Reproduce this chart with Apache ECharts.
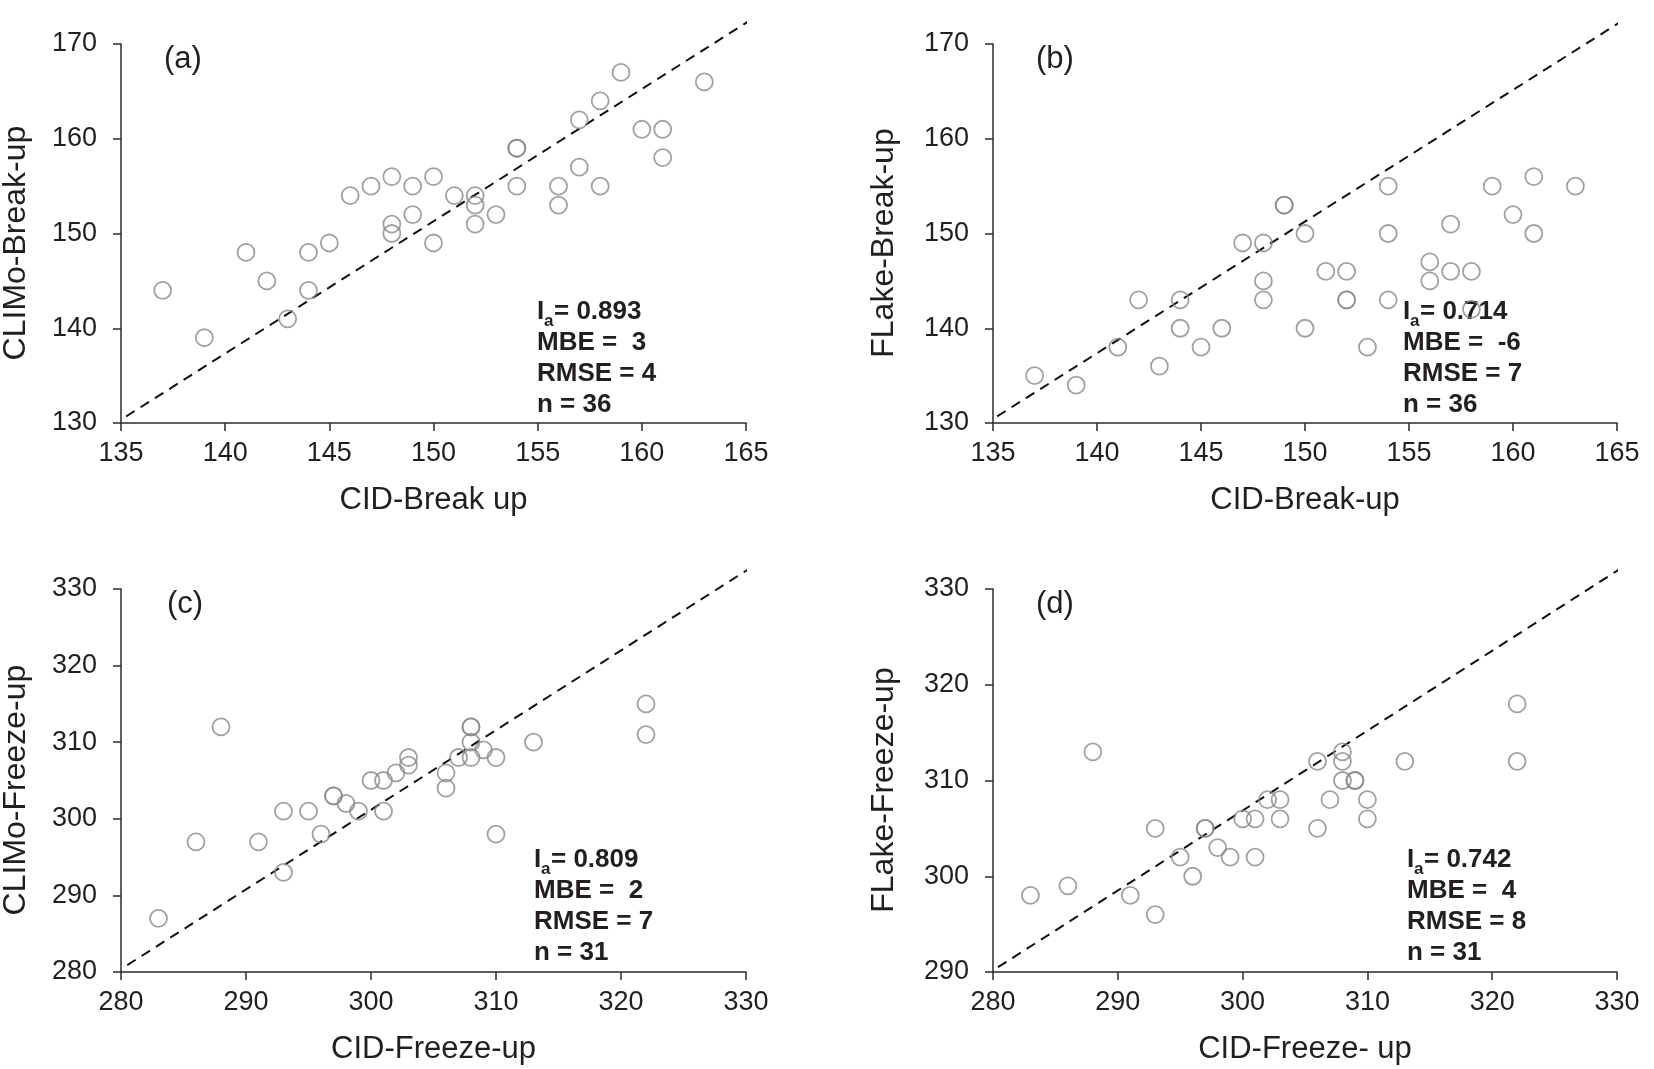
<!DOCTYPE html>
<html>
<head>
<meta charset="utf-8">
<script src="https://cdn.jsdelivr.net/npm/echarts@6/dist/echarts.min.js"></script>
<style>
html,body{margin:0;padding:0;background:#fff;}
#main{width:1654px;height:1069px;}
</style>
</head>
<body>
<div id="main"></div>
<script>
// (a) CID vs CLIMo break-up
var breakA = [[137,144],[139,139],[141,148],[142,145],[143,141],[144,148],[144,144],[145,149],[146,154],[147,155],
  [148,156],[148,151],[148,150],[149,155],[149,152],[150,156],[150,149],[151,154],[152,154],[152,153],
  [152,151],[153,152],[154,159],[154,159],[154,155],[156,155],[156,153],[157,162],[157,157],[158,164],
  [158,155],[159,167],[160,161],[161,161],[161,158],[163,166]];
// (b) CID vs FLake break-up
var breakB = [[137,135],[139,134],[141,138],[142,143],[143,136],[144,143],[144,140],[145,138],[146,140],[147,149],
  [148,149],[148,145],[148,143],[149,153],[149,153],[150,150],[150,140],[151,146],[152,146],[152,143],
  [152,143],[153,138],[154,155],[154,150],[154,143],[156,147],[156,145],[157,151],[157,146],[158,146],
  [158,142],[159,155],[160,152],[161,156],[161,150],[163,155]];
// (c) CID vs CLIMo freeze-up
var freezeC = [[283,287],[286,297],[288,312],[291,297],[293,301],[293,293],[295,301],[296,298],[297,303],[297,303],
  [298,302],[299,301],[300,305],[301,305],[301,301],[302,306],[303,308],[303,307],[306,306],[306,304],
  [307,308],[308,312],[308,312],[308,310],[308,308],[309,309],[310,308],[310,298],[313,310],[322,315],[322,311]];
// (d) CID vs FLake freeze-up
var freezeD = [[283,298],[286,299],[288,313],[291,298],[293,305],[293,296],[295,302],[296,300],[297,305],[297,305],
  [298,303],[299,302],[300,306],[301,306],[301,302],[302,308],[303,308],[303,306],[306,312],[306,305],
  [307,308],[308,313],[308,312],[308,310],[309,310],[309,310],[310,308],[310,306],[313,312],[322,318],[322,312]];

// dashed reference lines (end points)
var refA = [[135.25,130.7],[166.7,174.6]];
var refB = [[135.2,130.7],[166.8,174.6]];
var refC = [[280.5,280.9],[333,335.5]];
var refD = [[280.4,290.5],[333,334.4]];

var xTitles = ['CID-Break up','CID-Break-up','CID-Freeze-up','CID-Freeze- up'];
var yTitles = ['CLIMo-Break-up','FLake-Break-up','CLIMo-Freeze-up','FLake-Freeze-up'];
var panelTags = ['(a)','(b)','(c)','(d)'];
var xRanges = [[135,165,5],[135,165,5],[280,330,10],[280,330,10]];
var yRanges = [[130,170,10],[130,170,10],[280,330,10],[290,330,10]];
var statIa = ['0.893','0.714','0.809','0.742'];
var statMBE = ['3','-6','2','4'];
var statRMSE = ['4','7','7','8'];
var statN = ['36','36','31','31'];

var FONT = '"Liberation Sans", Arial, Helvetica, sans-serif';
var INK = '#231f20';
var AXIS = '#2b2b2b';

var grids = [
  {left:121, top:44, width:625, height:379},
  {left:993, top:44, width:624, height:379},
  {left:121, top:589, width:625, height:383},
  {left:993, top:589, width:624, height:383}
];
var yTitlePos = [[16,243],[884,243],[16,790],[884,790]];
var statPos = [[537,312],[1403,312],[534,860],[1407,860]];
var tagPos = [[164,59],[1036,59],[167,604],[1036,604]];

var chart = echarts.init(document.getElementById('main'));

var xAxes=[], yAxes=[], series=[], graphics=[];
var pts = [breakA, breakB, freezeC, freezeD];
var refs = [refA, refB, refC, refD];

for (var i=0;i<4;i++){
  xAxes.push({
    type:'value', gridIndex:i, min:xRanges[i][0], max:xRanges[i][1], interval:xRanges[i][2],
    axisLine:{onZero:false, lineStyle:{color:AXIS, width:1.5}},
    axisTick:{show:true, length:8, lineStyle:{color:AXIS, width:1.5}},
    splitLine:{show:false},
    axisLabel:{fontSize:27, color:INK, fontFamily:FONT, margin:17},
    name:xTitles[i], nameLocation:'middle', nameGap:62,
    nameTextStyle:{fontSize:31, color:INK, fontFamily:FONT}
  });
  yAxes.push({
    type:'value', gridIndex:i, min:yRanges[i][0], max:yRanges[i][1], interval:yRanges[i][2],
    axisLine:{onZero:false, lineStyle:{color:AXIS, width:1.5}},
    axisTick:{show:true, length:8, lineStyle:{color:AXIS, width:1.5}},
    splitLine:{show:false},
    axisLabel:{fontSize:27, color:INK, fontFamily:FONT, margin:24}
  });
  series.push({
    type:'line', xAxisIndex:i, yAxisIndex:i, data:refs[i], symbol:'none', clip:false,
    lineStyle:{color:'#111', width:2, type:[10,7]}, silent:true, z:1
  });
  series.push({
    type:'scatter', xAxisIndex:i, yAxisIndex:i, data:pts[i], symbol:'circle', symbolSize:17,
    itemStyle:{color:'rgba(255,255,255,0)', borderColor:'#8a8a8a', borderWidth:1.8}, z:2
  });

  graphics.push({type:'text', x:yTitlePos[i][0], y:yTitlePos[i][1], rotation:Math.PI/2,
    style:{text:yTitles[i], fontSize:32, fill:INK, fontFamily:FONT, textAlign:'center', textVerticalAlign:'middle'}});

  var sx = statPos[i][0], sy = statPos[i][1];
  var bold = {fontSize:26, fontWeight:'bold', fill:INK, fontFamily:FONT, textVerticalAlign:'middle'};
  graphics.push({type:'text', x:sx, y:sy, style:Object.assign({text:'I'}, bold)});
  graphics.push({type:'text', x:sx+7, y:sy+9, style:{text:'a', fontSize:17, fontWeight:'bold', fill:INK, fontFamily:FONT, textVerticalAlign:'middle'}});
  graphics.push({type:'text', x:sx+17, y:sy, style:Object.assign({text:'= '+statIa[i]}, bold)});
  graphics.push({type:'text', x:sx, y:sy+31, style:Object.assign({text:'MBE =  '+statMBE[i]}, bold)});
  graphics.push({type:'text', x:sx, y:sy+62, style:Object.assign({text:'RMSE = '+statRMSE[i]}, bold)});
  graphics.push({type:'text', x:sx, y:sy+93, style:Object.assign({text:'n = '+statN[i]}, bold)});
  graphics.push({type:'text', x:tagPos[i][0], y:tagPos[i][1], style:{text:panelTags[i], fontSize:31, fill:INK, fontFamily:FONT, textVerticalAlign:'middle'}});
}

chart.setOption({
  backgroundColor:'#fff',
  animation:false,
  grid:grids,
  xAxis:xAxes,
  yAxis:yAxes,
  series:series,
  graphic:graphics
});
</script>
</body>
</html>
